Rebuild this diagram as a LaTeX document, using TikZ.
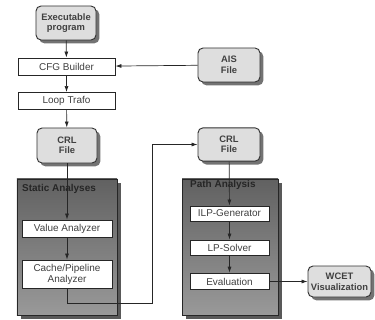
\documentclass[tikz,border=0pt]{standalone}
\usepackage{fontspec}
\setmainfont{Liberation Sans}
\usetikzlibrary{arrows.meta,shadows}

\begin{document}
\begin{tikzpicture}[
    x=0.03cm, y=-0.03cm,
    filebox/.style={draw=black!80, line width=0.8pt, rounded corners=0.15cm,
      fill=black!13, align=center, inner sep=0pt,
      font=\fontsize{8}{9}\selectfont\bfseries, text=black!75,
      drop shadow={shadow xshift=0.1cm, shadow yshift=-0.1cm, fill=black!55, opacity=1}},
    stepbox/.style={draw=black!85, line width=0.8pt, fill=white, align=center,
      inner sep=0pt, font=\fontsize{8.5}{9.5}\selectfont, text=black!75},
    groupbox/.style={draw=black!85, line width=0.8pt, inner sep=0pt,
      top color=black!62, bottom color=black!40,
      drop shadow={shadow xshift=0.12cm, shadow yshift=-0.12cm, fill=black!65, opacity=1}},
    grouptitle/.style={anchor=west, inner sep=0pt,
      font=\fontsize{8.5}{9.5}\selectfont\bfseries, text=black!85},
    flow/.style={draw=black!85, line width=0.6pt, -{Latex[length=0.18cm,width=0.12cm]}},
  ]
  \useasboundingbox (0,0) rectangle (375,320);

  % analysis groups
  \node[groupbox, minimum width=3cm, minimum height=4.08cm] (static) at (67,247) {};
  \node[grouptitle] (statictitle) at (22,189) {Static Analyses};
  \node[groupbox, minimum width=2.88cm, minimum height=4.08cm] (path) at (230,247) {};
  \node[grouptitle] (pathtitle) at (190,185) {Path Analysis};

  % inputs and intermediate files
  \node[filebox, minimum width=1.8cm, minimum height=1.02cm] (exe) at (66,23) {Executable\\program};
  \node[filebox, minimum width=1.86cm, minimum height=1.02cm] (ais) at (229,65) {AIS\\File};
  \node[filebox, minimum width=1.8cm, minimum height=1.05cm] (crlA) at (67,145.5) {CRL\\File};
  \node[filebox, minimum width=1.86cm, minimum height=1cm] (crlB) at (229,144.5) {CRL\\File};
  \node[filebox, minimum width=1.89cm, minimum height=0.93cm] (wcet) at (339.5,281.5) {WCET\\Visualization};

  % processing steps
  \node[stepbox, minimum width=2.91cm, minimum height=0.51cm] (cfg) at (66.5,66.5) {CFG Builder};
  \node[stepbox, minimum width=2.91cm, minimum height=0.51cm] (loop) at (66.5,101) {Loop Trafo};
  \node[stepbox, minimum width=2.7cm, minimum height=0.51cm] (value) at (67,228.5) {Value Analyzer};
  \node[stepbox, minimum width=2.7cm, minimum height=0.84cm] (cache) at (67,274) {Cache/Pipeline\\Analyzer};
  \node[stepbox, minimum width=2.37cm, minimum height=0.45cm] (ilp) at (229.5,213.5) {ILP-Generator};
  \node[stepbox, minimum width=2.37cm, minimum height=0.45cm] (lps) at (229.5,247.5) {LP-Solver};
  \node[stepbox, minimum width=2.37cm, minimum height=0.5cm] (eval) at (229.5,281.5) {Evaluation};

  \coordinate (turn) at (152,303);

  % connectors
  \draw[flow] (exe) -- (cfg);
  \draw[flow] (ais) -- (cfg);
  \draw[flow] (cfg) -- (loop);
  \draw[flow] (loop) -- (crlA);
  \draw[flow] (crlA) -- (value);
  \draw[flow] (value) -- (cache);
  \draw[flow] (cache.south) |- (turn) |- (crlB.west);
  \draw[flow] (crlB) -- (ilp);
  \draw[flow] (ilp) -- (lps);
  \draw[flow] (lps) -- (eval);
  \draw[flow] (eval) -- (wcet);
\end{tikzpicture}
\end{document}
